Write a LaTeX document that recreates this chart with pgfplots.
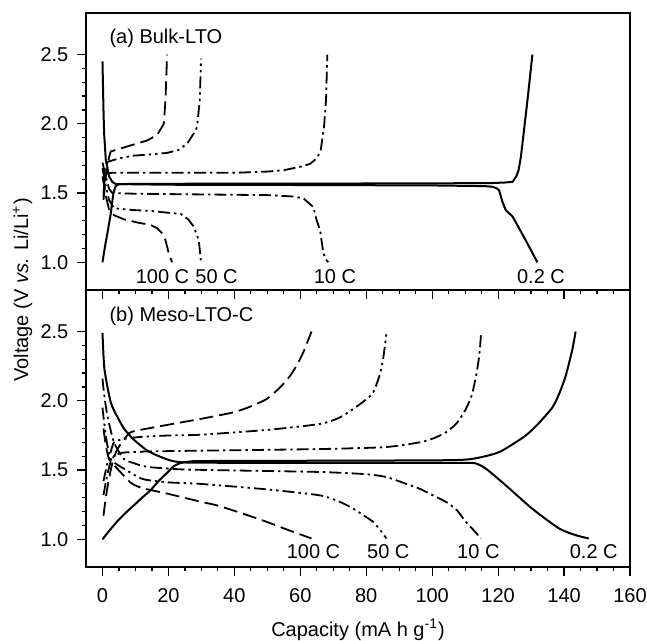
\documentclass[border=0pt]{standalone}
\usepackage{pgfplots}
\pgfplotsset{compat=1.18}
\usepgfplotslibrary{groupplots}
\usepackage{fontspec}
\setmainfont{Liberation Sans}
\pgfplotsset{
 p02/.style={black, line width=1pt, solid, line join=round},
 p10/.style={black, line width=0.9pt, line join=round, dash pattern=on 6pt off 2pt on 1.2pt off 2pt},
 p50/.style={black, line width=0.9pt, line join=round, dash pattern=on 6pt off 2pt on 1.2pt off 2pt on 1.2pt off 2pt},
 p100/.style={black, line width=0.9pt, line join=round, dash pattern=on 7pt off 3pt},
 sm/.style={smooth, tension=0.4},
}
\begin{document}
\begin{tikzpicture}
\begin{groupplot}[
  group style={group size=1 by 2, vertical sep=0pt, xticklabels at=edge bottom},
  width=272pt, height=138.5pt, scale only axis,
  xmin=-5, xmax=160, ymin=0.8, ymax=2.8,
  xtick={0,20,...,160}, minor x tick num=3,
  ytick={1.0,1.5,2.0,2.5}, minor y tick num=4,
  tick align=outside, xtick pos=bottom, ytick pos=left,
  major tick length=4.3pt, minor tick length=2.2pt,
  /pgf/number format/assume math mode=true,
  yticklabel style={/pgf/number format/fixed, /pgf/number format/precision=1, /pgf/number format/fixed zerofill, xshift=-1pt},
  xticklabel style={inner sep=0pt, yshift=-6.1pt},
  axis line style={line width=0.8pt},
  every tick/.style={black, line width=0.6pt},
  clip=false,
]
\nextgroupplot
% 0.2 C
\addplot[p02] coordinates {(0,1.0) (0.8,1.12) (1.5,1.21) (2.5,1.35) (3.3,1.50) (4,1.55) (5,1.565) (20,1.567) (60,1.568) (100,1.570) (118,1.572) (122,1.576) (124.4,1.581) (125.5,1.62) (126.2,1.665) (126.9,1.76) (128.9,2.17) (130.4,2.5)};
\addplot[p02] coordinates {(0,2.45) (0.3,2.1) (0.5,1.93) (1,1.74) (2,1.62) (3,1.58) (4,1.565) (20,1.56) (60,1.558) (100,1.555) (116,1.55) (118.3,1.545) (119.5,1.535) (120.3,1.52) (121.3,1.437) (122.3,1.377) (124.4,1.33) (128.3,1.162) (131.9,1.0)};
% 10 C
\addplot[p10] coordinates {(0.3,1.47) (0.6,1.56) (1,1.64) (3,1.646) (20,1.646) (40,1.646) (50,1.655) (55,1.665) (60,1.69) (62.9,1.71) (65,1.75) (66.2,1.81) (67.2,1.98) (67.8,2.17) (68.2,2.5)};
\addplot[p10] coordinates {(0,1.72) (1,1.62) (2,1.53) (3,1.50) (10,1.495) (30,1.49) (50,1.485) (58,1.475) (61,1.46) (63.9,1.40) (65,1.30) (66,1.23) (67,1.066) (67.8,1.02) (68.5,1.0)};
% 50 C
\addplot[p50] coordinates {(0.3,1.5) (1,1.68) (1.5,1.725) (5,1.75) (9.5,1.77) (15,1.78) (19.6,1.79) (23,1.81) (25.7,1.857) (28.2,1.95) (28.7,1.98) (29.2,2.1) (29.5,2.17) (29.9,2.47)};
\addplot[p50] coordinates {(0,1.68) (1,1.55) (2,1.45) (3.5,1.39) (9.5,1.377) (15,1.37) (20.6,1.356) (23.7,1.35) (26,1.31) (27.7,1.257) (29.2,1.16) (29.9,1.0)};
% 100 C
\addplot[p100] coordinates {(0.3,1.45) (1,1.62) (2,1.76) (2.5,1.80) (8,1.84) (13.6,1.88) (16.6,1.92) (18.6,2.0) (19.1,2.17) (19.6,2.5)};
\addplot[p100] coordinates {(0,1.62) (1,1.48) (2,1.38) (3.5,1.34) (6.5,1.31) (11,1.285) (14.6,1.27) (16.6,1.245) (18.1,1.21) (19.1,1.16) (20.1,1.066) (21.1,1.0)};
\node[anchor=west] at (axis cs:0,2.615) {(a) Bulk-LTO};
\node at (axis cs:18.2,0.9) {100 C};
\node at (axis cs:34.6,0.9) {50 C};
\node at (axis cs:70.5,0.9) {10 C};
\node at (axis cs:133,0.9) {0.2 C};

\nextgroupplot[xlabel={Capacity (mA h g\textsuperscript{-1})}, xlabel style={inner sep=0pt, yshift=-8.2pt}]
% 0.2 C
\addplot[p02, sm] coordinates {(0,1.0) (2,1.06) (4.5,1.13) (7,1.19) (9.5,1.245) (12,1.30) (14.6,1.355) (17,1.42) (19.6,1.48) (21.5,1.525) (23.5,1.55) (26,1.56) (30,1.565) (60,1.567) (100,1.57) (110,1.575) (114.3,1.59) (117,1.605) (120.4,1.63) (124,1.68) (128.4,1.75) (132,1.83) (136.4,1.95) (138.5,2.05) (140.5,2.18) (142.5,2.37) (143.5,2.5)};
\addplot[p02, sm] coordinates {(0,2.49) (0.5,2.25) (1.5,2.1) (2.5,1.99) (3.5,1.93) (6.5,1.80) (9.5,1.72) (11.6,1.677) (13.6,1.64) (16.6,1.605) (20.6,1.569) (24,1.556) (30,1.553) (60,1.552) (100,1.552) (110,1.552) (113.2,1.548) (116.3,1.51) (122.3,1.39) (130.4,1.22) (138.5,1.078) (143.5,1.03) (147.5,1.006)};
% 10 C
\addplot[p10, sm] coordinates {(0.3,1.32) (1.5,1.47) (2.5,1.56) (3.5,1.60) (6,1.625) (13.6,1.634) (29.7,1.64) (50,1.646) (69,1.653) (86,1.666) (96.2,1.70) (100.5,1.73) (104.2,1.773) (107.5,1.84) (110.2,1.94) (112,2.04) (113.3,2.18) (114.3,2.33) (114.8,2.48)};
\addplot[p10, sm] coordinates {(0,2.16) (0.5,2.05) (1.5,1.89) (3.5,1.70) (6.5,1.58) (9.5,1.55) (11.6,1.533) (14.6,1.52) (20.6,1.51) (24.7,1.504) (40,1.497) (66,1.486) (80,1.47) (86,1.45) (91,1.41) (96.2,1.365) (100,1.32) (104.2,1.27) (107.5,1.21) (110.2,1.126) (112.8,1.06) (114.8,1.006)};
% 50 C
\addplot[p50, sm] coordinates {(0.3,1.42) (1.5,1.55) (2.5,1.63) (3.5,1.70) (6.5,1.725) (12,1.74) (20.6,1.75) (29.7,1.755) (50,1.79) (66,1.833) (72,1.88) (76,1.94) (80,2.01) (82.1,2.06) (84,2.18) (85.1,2.30) (86.1,2.48)};
\addplot[p50, sm] coordinates {(0,1.95) (1,1.75) (2.5,1.58) (6.5,1.51) (11.6,1.44) (14.6,1.425) (20.6,1.41) (29.7,1.40) (50,1.36) (66,1.317) (72,1.27) (76,1.222) (80,1.16) (82.1,1.126) (84.5,1.06) (86.1,1.006)};
% 100 C
\addplot[p100, sm] coordinates {(0.3,1.17) (1,1.30) (2,1.44) (3,1.55) (4.5,1.65) (7.5,1.75) (9.5,1.78) (20.6,1.83) (29.7,1.869) (39.8,1.917) (45,1.96) (49.8,2.013) (54,2.10) (56.9,2.18) (59,2.26) (60.9,2.35) (63.4,2.5)};
\addplot[p100, sm] coordinates {(0.3,1.80) (1,1.68) (2,1.58) (4.5,1.51) (8.5,1.41) (12,1.37) (19.6,1.33) (30,1.27) (34.7,1.245) (42,1.19) (49.8,1.126) (56,1.07) (63.4,1.006)};
\node[anchor=west] at (axis cs:0,2.61) {(b) Meso-LTO-C};
\node at (axis cs:64,0.91) {100 C};
\node at (axis cs:86.7,0.91) {50 C};
\node at (axis cs:114,0.91) {10 C};
\node at (axis cs:149,0.91) {0.2 C};
\end{groupplot}
\node[rotate=90, inner sep=0pt] at ([xshift=-31.75pt]group c1r1.south west) {Voltage (V \textit{vs.} Li/Li\textsuperscript{+})};
\path ([xshift=-43pt,yshift=6.5pt]group c1r1.north west) rectangle ([xshift=8.5pt,yshift=-35.5pt]group c1r2.south east);
\end{tikzpicture}
\end{document}
